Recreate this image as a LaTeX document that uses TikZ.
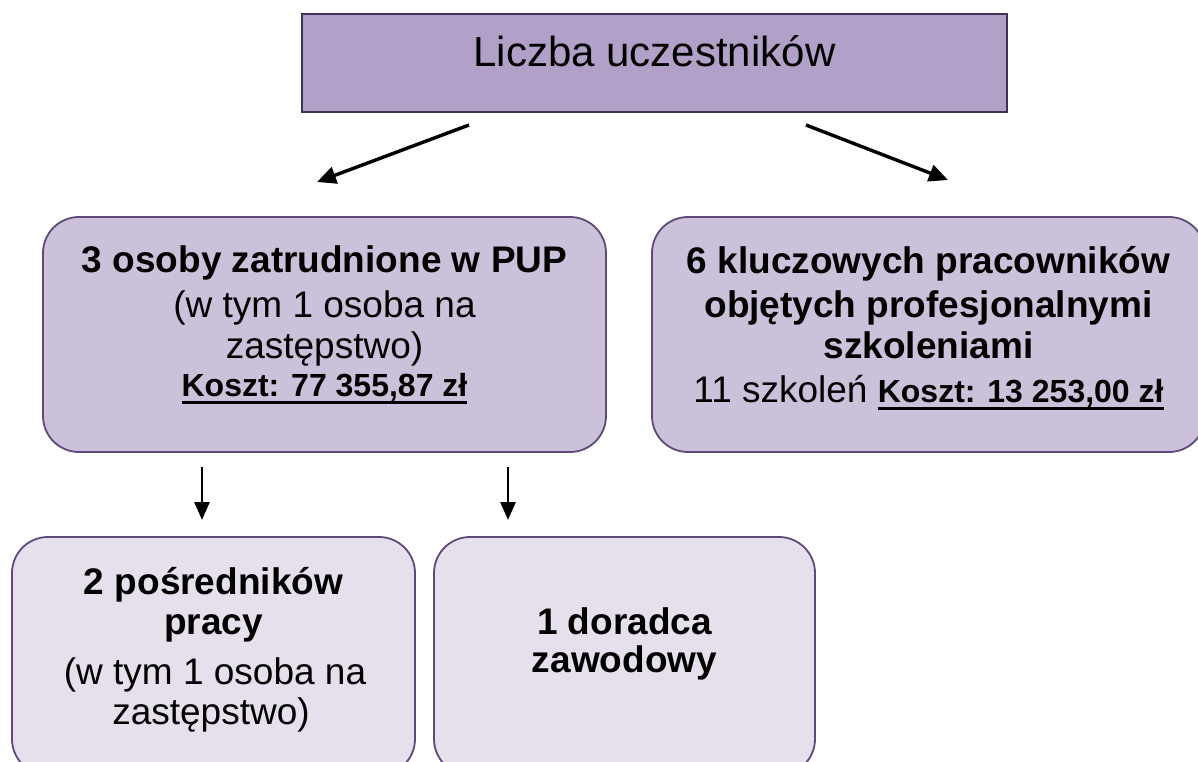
\documentclass[tikz,border=0pt]{standalone}
\usepackage{fontspec}
\setmainfont{Liberation Sans}
\usetikzlibrary{arrows.meta}
\definecolor{topfill}{HTML}{B1A0C7}
\definecolor{topdraw}{HTML}{3F3151}
\definecolor{midfill}{HTML}{CCC1DA}
\definecolor{boxdraw}{HTML}{5F497A}
\definecolor{lowfill}{HTML}{E5E0EC}
\newcommand\ulk[1]{\setbox0=\hbox{#1}\makebox[0pt][l]{\rule[-7.5pt]{\wd0}{3pt}}\box0}
\newcommand\fsz[1]{\fontsize{#1}{#1}\selectfont}
\begin{document}
\begin{tikzpicture}[x=1pt,y=-1pt,
  box/.style={draw=boxdraw,line width=1.8pt,rounded corners=36pt,inner sep=0pt,outer sep=0pt},
  txt/.style={inner sep=0pt,outer sep=0pt,anchor=base},
  bigb/.style={txt,font=\fsz{37}\bfseries},
  bigr/.style={txt,font=\fsz{37}},
  arr/.style={line width=3.4pt,-{Triangle[length=19pt,width=17pt]}},
  darr/.style={line width=2.8pt,-{Triangle[length=18pt,width=15pt]}}]
\path[use as bounding box,clip] (0,0) rectangle (1198,762);
\fill[white] (0,0) rectangle (1198,762);
% boxes
\node[draw=topdraw,fill=topfill,line width=2pt,minimum width=705pt,minimum height=98pt,inner sep=0pt] (top) at (654.5,63) {};
\node[box,fill=midfill,minimum width=563pt,minimum height=235pt] (pup) at (324.5,334.5) {};
\node[box,fill=midfill,minimum width=553pt,minimum height=235pt] (key) at (928.5,334.5) {};
\node[box,fill=lowfill,minimum width=403pt,minimum height=238pt] (posr) at (213.5,656) {};
\node[box,fill=lowfill,minimum width=381pt,minimum height=238pt] (dor) at (624.5,656) {};
% texts
\node[txt,font=\fsz{42}] (title) at (654.5,67) {Liczba uczestników};
\node[bigb] (m1) at (324.5,272) {3 osoby zatrudnione w PUP};
\node[bigr] (m2) at (324.5,317) {(w tym 1 osoba na};
\node[bigr] (m3) at (324.5,358) {zastępstwo)};
\node[txt,font=\fsz{32}\bfseries] (m4) at (324.5,396) {\ulk{Koszt: 77 355,87 zł}};
\node[bigb] (r1) at (928.5,273) {6 kluczowych pracowników};
\node[bigb] (r2) at (928.5,317) {objętych profesjonalnymi};
\node[bigb] (r3) at (928.5,358) {szkoleniami};
\node[bigr] (r4) at (928.5,402) {11 szkoleń \ulk{\fsz{32}\bfseries Koszt: 13 253,00 zł}};
\node[bigb] (b1) at (213.5,594) {2 pośredników};
\node[bigb] (b2) at (213.5,634) {pracy};
\node[bigr] (b3) at (215,684) {(w tym 1 osoba na};
\node[bigr] (b4) at (211,724) {zastępstwo)};
\node[bigb] (c1) at (624.5,634) {1 doradca};
\node[bigb] (c2) at (624.5,672) {zawodowy};
% connectors
\coordinate (la0) at (469,125);
\coordinate (la1) at (317,182);
\coordinate (ra0) at (806,125);
\coordinate (ra1) at (948,180);
\coordinate (da0) at (202,467);
\coordinate (da1) at (202,520);
\coordinate (db0) at (508,467);
\coordinate (db1) at (508,520);
\draw[arr] (la0) -- (la1);
\draw[arr] (ra0) -- (ra1);
\draw[darr] (da0) -- (da1);
\draw[darr] (db0) -- (db1);
\end{tikzpicture}
\end{document}
